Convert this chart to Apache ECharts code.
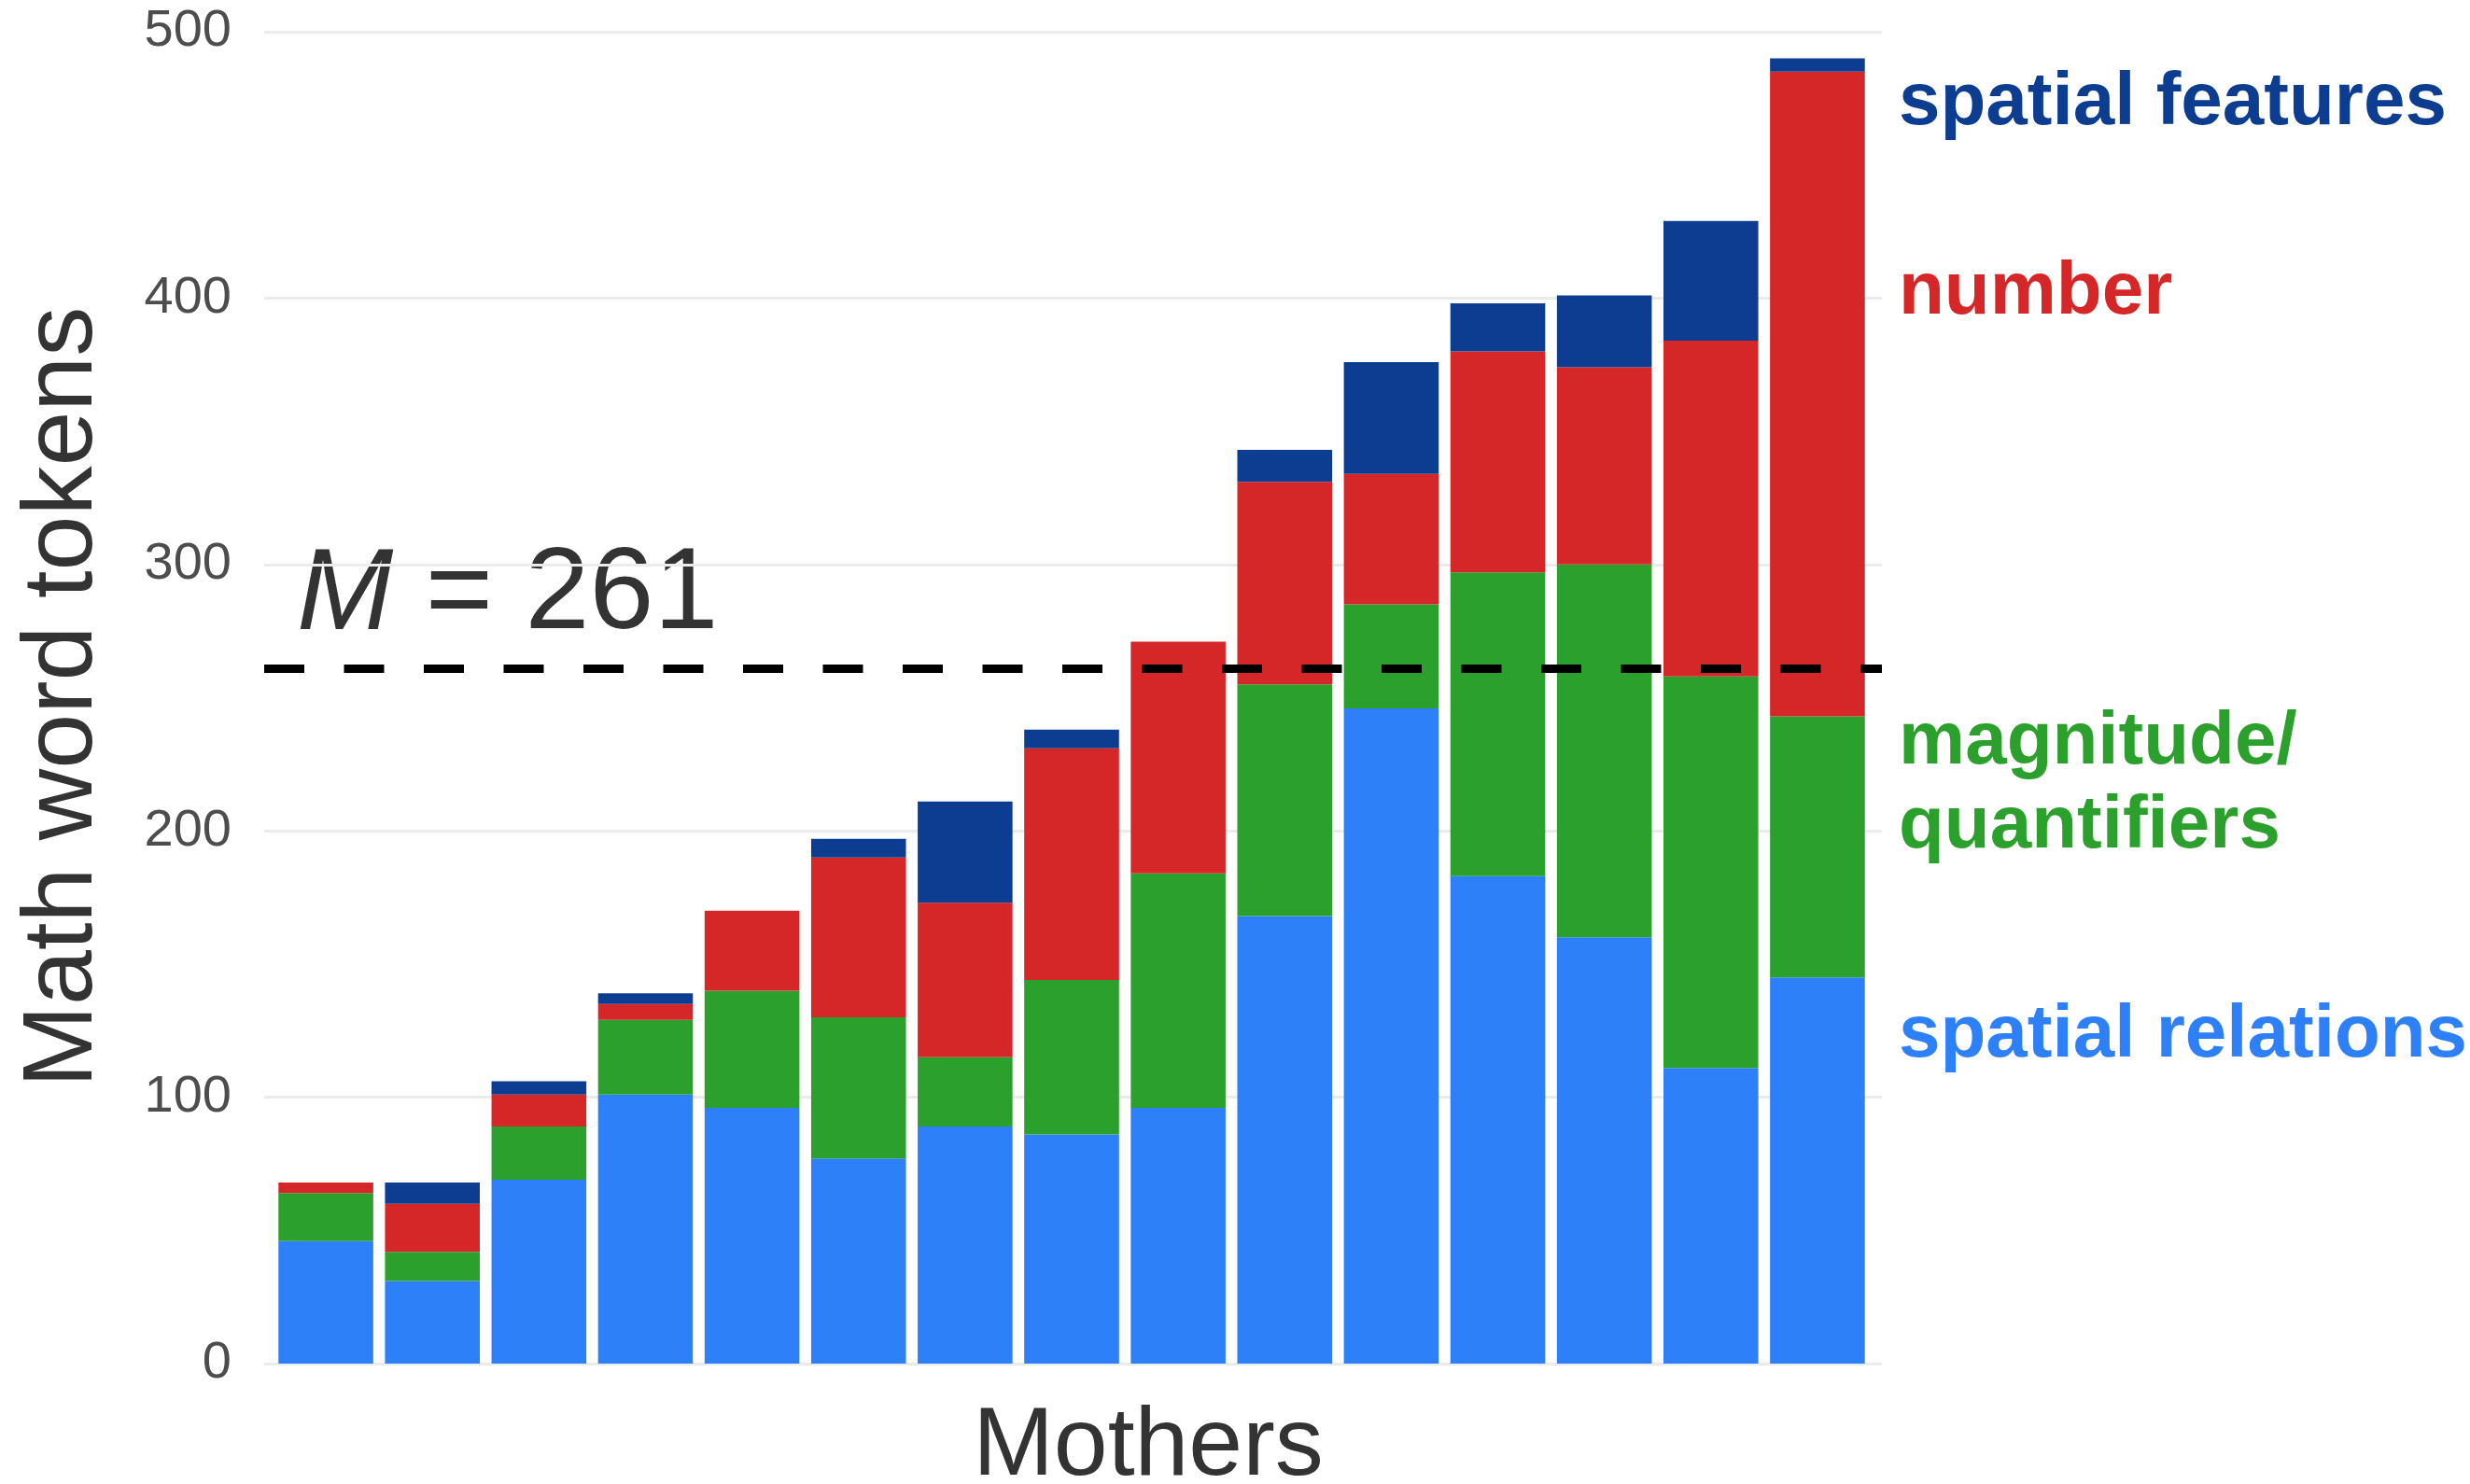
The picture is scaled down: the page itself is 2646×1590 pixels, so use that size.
<!DOCTYPE html>
<html>
<head>
<meta charset="utf-8">
<style>
  html, body { margin: 0; padding: 0; background: #ffffff; }
  #chart { width: 2646px; height: 1590px; }
</style>
<script src="https://cdn.jsdelivr.net/npm/echarts@6/dist/echarts.min.js"></script>
</head>
<body>
<div id="chart"></div>
<script>
// ---- Data ----
const mothers = ['1','2','3','4','5','6','7','8','9','10','11','12','13','14','15'];
const spatialRelations = [46, 31, 69, 101, 96, 77, 89, 86, 96, 168, 246, 183, 160, 111, 145];
const magnitudeQuantifiers = [18, 11, 20, 28, 44, 53, 26, 58, 88, 87, 39, 114, 140, 147, 98];
const numberWords = [4, 18, 12, 6, 30, 60, 58, 87, 87, 76, 49, 83, 74, 126, 242];
const spatialFeatures = [0, 8, 5, 4, 0, 7, 38, 7, 0, 12, 42, 18, 27, 45, 5];
const meanValue = 261;
const yTicks = [0, 100, 200, 300, 400, 500];

const colors = {
  relations: '#2e80f8',
  magnitude: '#2ca02c',
  number: '#d62728',
  features: '#0d3d91'
};
const FONT = '"Liberation Sans", Arial, Helvetica, sans-serif';

const chart = echarts.init(document.getElementById('chart'), null, { renderer: 'canvas' });

const barCommon = {
  type: 'bar',
  stack: 'total',
  xAxisIndex: 1,
  yAxisIndex: 1,
  barWidth: '89%',
  silent: true
};

const option = {
  backgroundColor: '#ffffff',
  animation: false,
  grid: [
    { left: 283, right: 630, top: 34, bottom: 129 },
    { left: 292, right: 642, top: 34, bottom: 129 }
  ],
  xAxis: [
    { type: 'category', gridIndex: 0, data: mothers, show: false },
    { type: 'category', gridIndex: 1, data: mothers,
      axisLine: { show: false }, axisTick: { show: false }, axisLabel: { show: false }, splitLine: { show: false } }
  ],
  yAxis: [
    { type: 'value', gridIndex: 0, min: yTicks[0], max: yTicks[yTicks.length - 1], interval: 100,
      axisLine: { show: false }, axisTick: { show: false },
      axisLabel: { color: '#4d4d4d', fontSize: 56, fontFamily: FONT, margin: 35, padding: [12, 0, 0, 0] },
      splitLine: { show: true, lineStyle: { color: '#ebebeb', width: 3 } } },
    { type: 'value', gridIndex: 1, min: 0, max: 500, interval: 100, show: false,
      splitLine: { show: false } }
  ],
  series: [
    Object.assign({}, barCommon, { name: 'spatial relations', data: spatialRelations, itemStyle: { color: colors.relations } }),
    Object.assign({}, barCommon, { name: 'magnitude/quantifiers', data: magnitudeQuantifiers, itemStyle: { color: colors.magnitude } }),
    Object.assign({}, barCommon, { name: 'number', data: numberWords, itemStyle: { color: colors.number } }),
    Object.assign({}, barCommon, { name: 'spatial features', data: spatialFeatures, itemStyle: { color: colors.features } }),
    {
      type: 'line', name: 'mean', xAxisIndex: 0, yAxisIndex: 0, z: 10,
      data: mothers.map(() => '-'), showSymbol: false, silent: true,
      markLine: {
        silent: true, symbol: 'none', animation: false,
        label: { show: false },
        lineStyle: { color: '#000000', width: 9, type: [43, 42.5], cap: 'butt' },
        data: [{ yAxis: meanValue }]
      }
    }
  ],
  graphic: [
    { type: 'text', x: 69, y: 747, rotation: Math.PI / 2,
      style: { text: 'Math word tokens', fill: '#333333', font: '106px ' + FONT, align: 'center', verticalAlign: 'middle' } },
    { type: 'text', x: 1230, y: 1551,
      style: { text: 'Mothers', fill: '#333333', font: '104px ' + FONT, align: 'center', verticalAlign: 'middle' } },
    { type: 'text', x: 318, y: 639,
      style: { text: '{i|M} = ' + meanValue, fill: '#333333', font: '124px ' + FONT, align: 'left', verticalAlign: 'middle',
        rich: { i: { fontStyle: 'italic', fontSize: 124, fontFamily: FONT, fill: '#333333' } } } },
    { type: 'text', x: 2034, y: 111,
      style: { text: 'spatial features', fill: colors.features, font: 'bold 80px ' + FONT, align: 'left', verticalAlign: 'middle' } },
    { type: 'text', x: 2034, y: 314,
      style: { text: 'number', fill: colors.number, font: 'bold 80px ' + FONT, align: 'left', verticalAlign: 'middle' } },
    { type: 'text', x: 2034, y: 796,
      style: { text: 'magnitude/', fill: colors.magnitude, font: 'bold 80px ' + FONT, align: 'left', verticalAlign: 'middle' } },
    { type: 'text', x: 2034, y: 886,
      style: { text: 'quantifiers', fill: colors.magnitude, font: 'bold 80px ' + FONT, align: 'left', verticalAlign: 'middle' } },
    { type: 'text', x: 2034, y: 1110,
      style: { text: 'spatial relations', fill: colors.relations, font: 'bold 80px ' + FONT, align: 'left', verticalAlign: 'middle' } }
  ]
};

chart.setOption(option);
</script>
</body>
</html>
